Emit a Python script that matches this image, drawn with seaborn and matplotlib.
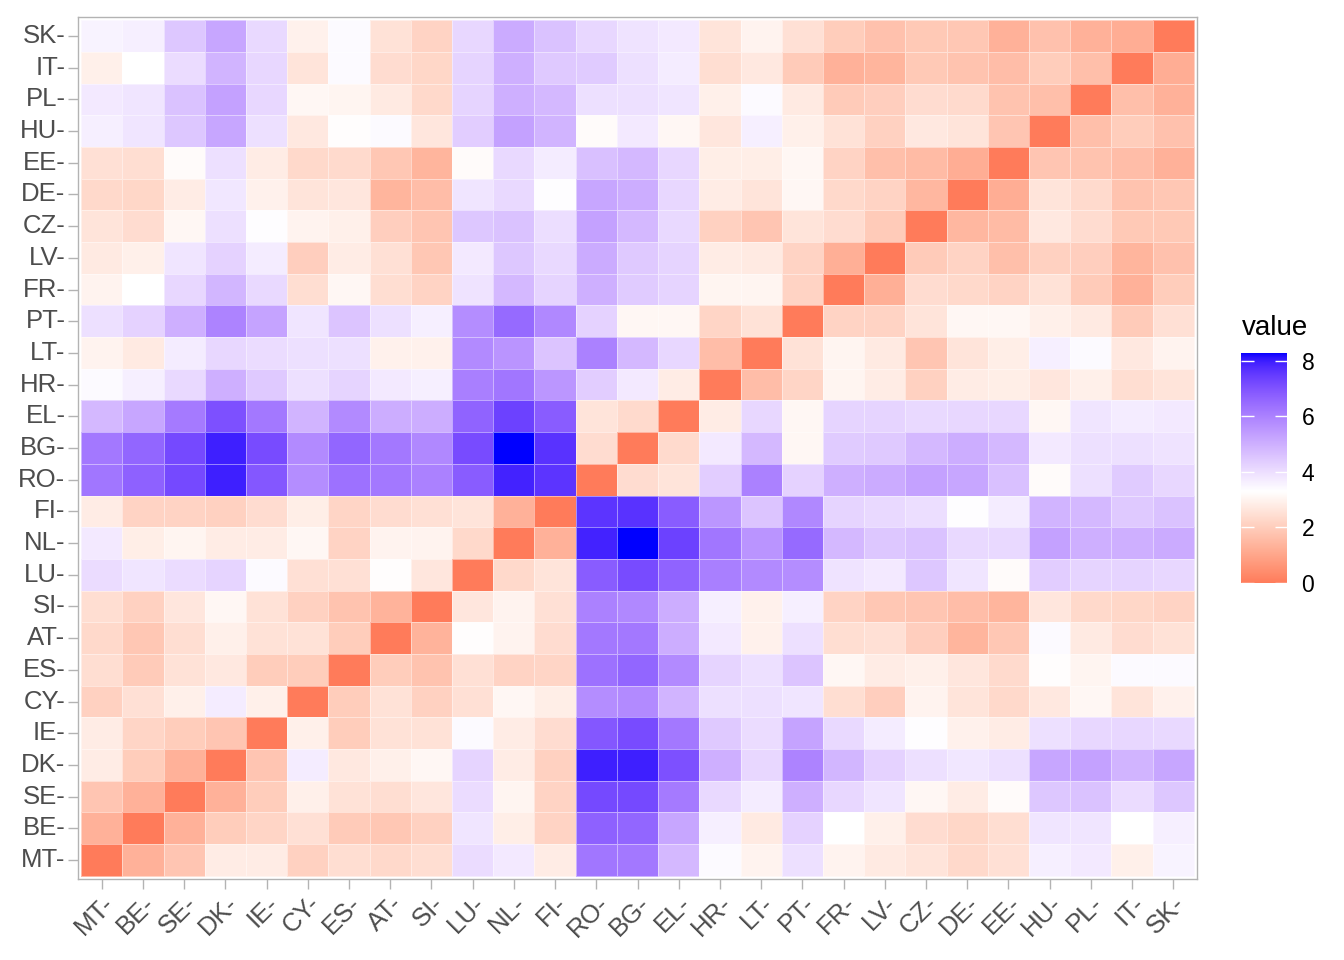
import numpy as np
import pandas as pd
import matplotlib
matplotlib.use("Agg")
import matplotlib.pyplot as plt
from matplotlib.colors import ListedColormap
import seaborn as sns

plt.rcParams['font.family'] = ['Liberation Sans', 'DejaVu Sans']

countries = ["MT", "BE", "SE", "DK", "IE", "CY", "ES", "AT", "SI", "LU", "NL", "FI", "RO",
             "BG", "EL", "HR", "LT", "PT", "FR", "LV", "CZ", "DE", "EE", "HU", "PL", "IT", "SK"]

# lower triangle (row i: distances to countries 0..i-1)
lower_triangle = [
    [],
    [1.3],
    [1.8, 1.3],
    [2.8, 2.0, 1.3],
    [2.8, 2.2, 2.0, 1.8],
    [2.1, 2.5, 2.9, 3.7, 2.9],
    [2.45, 1.95, 2.55, 2.7, 2.0, 2.0],
    [2.3, 1.85, 2.45, 2.9, 2.55, 2.55, 2.0],
    [2.45, 2.1, 2.65, 3.1, 2.55, 2.1, 1.75, 1.35],
    [4.05, 3.85, 4.05, 4.2, 3.4, 2.5, 2.5, 3.25, 2.65],
    [3.75, 2.85, 3.05, 2.8, 2.8, 3.1, 2.15, 3.0, 3.0, 2.3],
    [2.8, 2.15, 2.15, 2.1, 2.4, 2.85, 2.2, 2.4, 2.5, 2.6, 1.3],
    [6.25, 6.7, 7.2, 7.95, 6.9, 5.75, 6.35, 6.2, 6.0, 6.8, 7.9, 7.6],
    [6.2, 6.6, 7.2, 7.95, 7.15, 5.8, 6.6, 6.2, 5.85, 7.15, 8.27, 7.65, 2.4],
    [4.8, 5.2, 6.15, 7.05, 6.2, 4.9, 5.8, 5.05, 5.05, 6.65, 7.35, 6.8, 2.6, 2.35],
    [3.4, 3.65, 4.1, 5.0, 4.45, 3.95, 4.2, 3.75, 3.65, 6.05, 6.25, 5.55, 4.35, 3.75, 2.8],
    [3.0, 2.75, 3.7, 4.15, 4.05, 3.95, 3.95, 2.95, 2.95, 5.8, 5.6, 4.55, 6.0, 4.8, 4.15, 1.6],
    [3.95, 4.25, 5.0, 5.95, 5.25, 3.85, 4.55, 3.95, 3.65, 5.75, 6.5, 5.85, 4.25, 3.1, 3.1, 2.2, 2.55],
    [3.0, 3.3, 4.15, 4.85, 4.1, 2.45, 3.1, 2.45, 2.15, 3.9, 4.8, 4.2, 5.0, 4.4, 4.2, 3.05, 3.05, 2.15],
    [2.75, 2.9, 3.85, 4.25, 3.7, 2.05, 2.8, 2.5, 1.85, 3.75, 4.5, 4.1, 5.1, 4.45, 4.2, 2.8, 2.75, 2.15, 1.25],
    [2.6, 2.4, 3.1, 3.95, 3.35, 3.0, 2.9, 2.05, 1.8, 4.5, 4.6, 4.0, 5.3, 4.8, 4.1, 2.1, 1.8, 2.6, 2.4, 1.95],
    [2.3, 2.25, 2.8, 3.8, 2.95, 2.6, 2.65, 1.4, 1.6, 3.85, 4.1, 3.35, 5.2, 5.05, 4.15, 2.8, 2.6, 3.1, 2.3, 2.15, 1.45],
    [2.5, 2.45, 3.2, 3.95, 2.8, 2.3, 2.35, 1.85, 1.4, 3.2, 4.1, 3.7, 4.65, 4.8, 4.15, 2.85, 2.85, 3.1, 2.15, 1.65, 1.55, 1.2],
    [3.65, 3.85, 4.5, 5.2, 3.95, 2.7, 3.25, 3.4, 2.65, 4.35, 5.3, 4.9, 3.2, 3.75, 3.1, 2.65, 3.65, 2.9, 2.55, 2.1, 2.7, 2.6, 1.8],
    [3.75, 3.85, 4.6, 5.3, 4.15, 3.1, 3.05, 2.75, 2.3, 4.2, 5.0, 4.8, 3.95, 3.95, 3.85, 2.9, 3.4, 2.75, 1.95, 2.05, 2.4, 2.35, 1.75, 1.65],
    [2.9, 3.3, 4.05, 4.9, 4.15, 2.6, 3.4, 2.4, 2.25, 4.2, 5.0, 4.45, 4.4, 3.95, 3.7, 2.45, 2.7, 1.95, 1.3, 1.4, 1.9, 1.75, 1.6, 2.0, 1.65],
    [3.55, 3.65, 4.5, 5.2, 4.1, 2.95, 3.4, 2.55, 2.15, 4.15, 5.1, 4.6, 4.15, 3.9, 3.75, 2.6, 3.0, 2.5, 2.0, 1.7, 1.9, 1.85, 1.3, 1.7, 1.3, 1.2],
]
tick_labels = [c + "-" for c in countries]
midpoint = 3.3

n = len(countries)
mat = np.zeros((n, n))
for i, row in enumerate(lower_triangle):
    for j, v in enumerate(row):
        mat[i, j] = v
        mat[j, i] = v

# ---- colour scale: red / white / blue, interpolated in CIELAB around the midpoint ----
def srgb_to_lab(rgb):
    rgb = np.asarray(rgb, float)
    lin = np.where(rgb <= 0.04045, rgb / 12.92, ((rgb + 0.055) / 1.055) ** 2.4)
    M = np.array([[0.4124, 0.3576, 0.1805], [0.2126, 0.7152, 0.0722], [0.0193, 0.1192, 0.9505]])
    xyz = M @ lin / np.array([0.95047, 1.0, 1.08883])
    d = 6 / 29
    f = np.where(xyz > d ** 3, np.cbrt(xyz), xyz / (3 * d * d) + 4 / 29)
    return np.array([116 * f[1] - 16, 500 * (f[0] - f[1]), 200 * (f[1] - f[2])])

def lab_to_srgb(lab):
    L, a, b = lab
    fy = (L + 16) / 116
    fx = fy + a / 500
    fz = fy - b / 200
    d = 6 / 29
    finv = lambda t: np.where(t > d, t ** 3, 3 * d * d * (t - 4 / 29))
    xyz = np.array([finv(fx), finv(fy), finv(fz)]) * np.array([0.95047, 1.0, 1.08883])
    Mi = np.array([[3.2406, -1.5372, -0.4986], [-0.9689, 1.8758, 0.0415], [0.0557, -0.2040, 1.0570]])
    lin = np.clip(Mi @ xyz, 0, 1)
    s = np.where(lin <= 0.0031308, 12.92 * lin, 1.055 * lin ** (1 / 2.4) - 0.055)
    return np.clip(s, 0, 1)

lab_low = srgb_to_lab([1, 0, 0])
lab_mid = srgb_to_lab([1, 1, 1])
lab_high = srgb_to_lab([0, 0, 1])

vmin, vmax = 0.0, mat.max()
half = max(abs(vmax - midpoint), abs(vmin - midpoint))
vals = np.linspace(vmin, vmax, 512)
cols = []
for v in vals:
    p = (v - midpoint) / (2 * half) + 0.5
    if p <= 0.5:
        t = (0.5 - p) / 0.5
        lab = lab_mid + t * (lab_low - lab_mid)
    else:
        t = (p - 0.5) / 0.5
        lab = lab_mid + t * (lab_high - lab_mid)
    cols.append(lab_to_srgb(lab))
cmap = ListedColormap(cols)

# ---- figure ----
W, H = 1344, 960
fig = plt.figure(figsize=(W / 100, H / 100), dpi=100)
ax = fig.add_axes([78 / W, 1 - 879 / H, (1197 - 78) / W, (879 - 17) / H])
cax = fig.add_axes([1241 / W, 1 - 583 / H, 46 / W, 230 / H])

order_rows = countries[::-1]
df = pd.DataFrame(mat, index=countries, columns=countries).loc[order_rows, countries]

sns.heatmap(df, ax=ax, cbar_ax=cax, cmap=cmap, vmin=vmin, vmax=vmax,
            linewidths=0.6, linecolor=(1, 1, 1, 0.45),
            xticklabels=tick_labels, yticklabels=tick_labels[::-1])

ax.set_xlim(-0.08, n + 0.08)
ax.set_ylim(n + 0.1, -0.1)
ax.set_xlabel("")
ax.set_ylabel("")
for s in ax.spines.values():
    s.set_visible(True)
    s.set_color("#B3B3B3")
    s.set_linewidth(1.0)
ax.tick_params(axis="both", length=7, width=1, color="#B3B3B3", labelcolor="#4D4D4D",
               labelsize=18.5, pad=2)
plt.setp(ax.get_xticklabels(), rotation=45, ha="right", rotation_mode="anchor")
plt.setp(ax.get_yticklabels(), rotation=0)

cbar = ax.collections[0].colorbar
cbar.outline.set_visible(False)
cbar.set_ticks([0, 2, 4, 6, 8])
cax.yaxis.set_ticks_position("both")
cax.tick_params(which="both", direction="in", color="white", length=9, width=1,
                labelcolor="black", labelsize=16.5, left=True, right=True,
                labelleft=False, labelright=True, pad=10.5)
cax.minorticks_off()

fig.text(1242 / W, 1 - 328 / H, "value", fontsize=20, va="center", ha="left", color="black")

fig.savefig("out.png", dpi=100)
